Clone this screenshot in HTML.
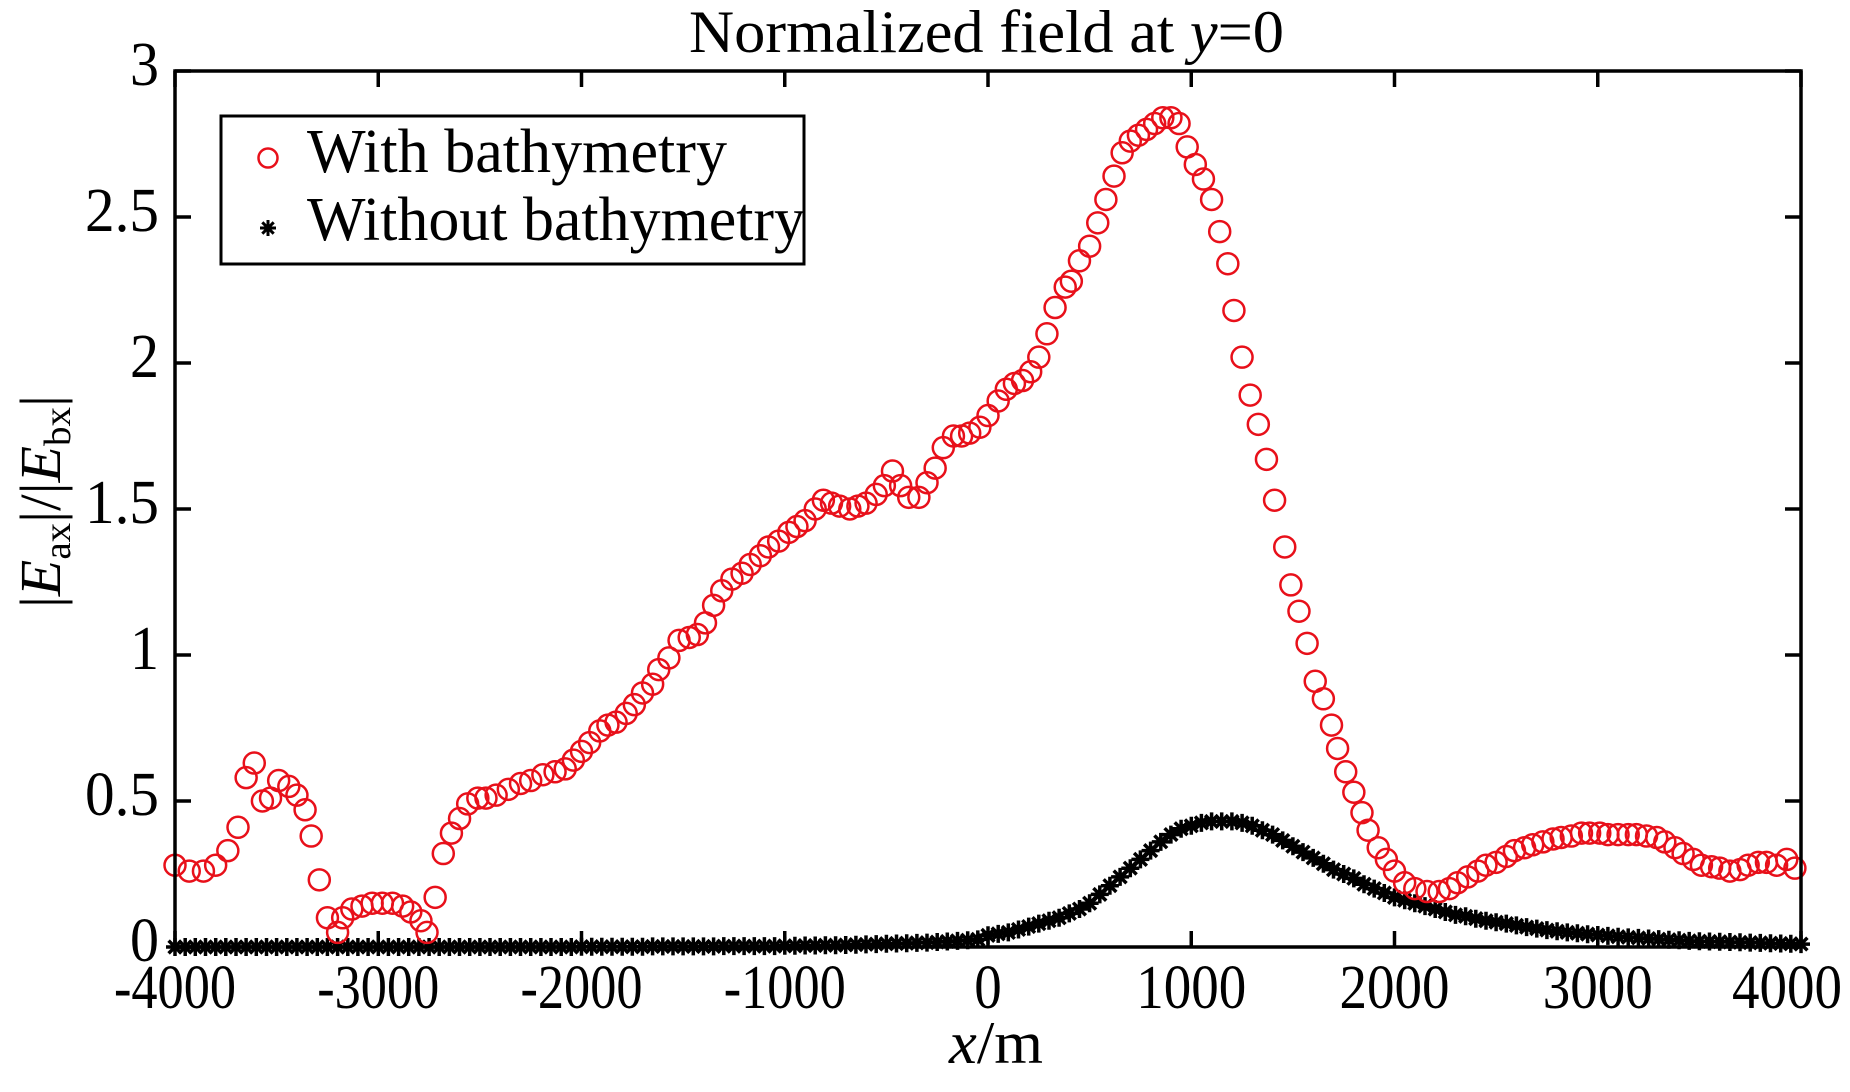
<!DOCTYPE html>
<html><head><meta charset="utf-8"><style>
html,body{margin:0;padding:0;background:#fff;}
svg{display:block;font-family:"Liberation Serif","Times New Roman",serif;}
</style></head><body>
<svg id="chart" width="1850" height="1092" viewBox="0 0 1850 1092" xmlns="http://www.w3.org/2000/svg">
<rect width="1850" height="1092" fill="#fff"/>
<text x="689" y="52" font-size="60" textLength="595" lengthAdjust="spacingAndGlyphs">Normalized field at <tspan font-style="italic">y</tspan>=0</text>
<g id="marks"></g>
<rect x="175" y="71" width="1626" height="876" fill="none" stroke="#000" stroke-width="3.5"/>
<g id="ticks"></g>
<text x="949" y="1063" font-size="60" textLength="94" lengthAdjust="spacingAndGlyphs"><tspan font-style="italic">x</tspan>/m</text>
<text transform="translate(60,608) rotate(-90)" font-size="58" textLength="213" lengthAdjust="spacingAndGlyphs">|<tspan font-style="italic">E</tspan><tspan font-size="38" dy="10">ax</tspan><tspan dy="-10">|/|</tspan><tspan font-style="italic">E</tspan><tspan font-size="38" dy="10">bx</tspan><tspan dy="-10">|</tspan></text>
<g>
<rect x="221" y="116" width="583" height="148" fill="#fff" stroke="#000" stroke-width="3"/>
<circle cx="268" cy="158" r="9.5" fill="none" stroke="#e8101a" stroke-width="2.5"/>
<text x="307" y="172" font-size="62" textLength="420" lengthAdjust="spacingAndGlyphs">With bathymetry</text>
<g id="legstar"></g>
<text x="307" y="240" font-size="62" textLength="498" lengthAdjust="spacingAndGlyphs">Without bathymetry</text>
</g>
</svg>
<script>
const redX=[-4000,-3930,-3860,-3800,-3740,-3690,-3650,-3610,-3570,-3530,-3490,-3440,-3400,-3360,-3330,-3290,-3250,-3200,-3175,-3130,-3080,-3030,-2980,-2930,-2880,-2840,-2790,-2760,-2720,-2680,-2640,-2600,-2560,-2510,-2470,-2420,-2360,-2300,-2250,-2190,-2130,-2080,-2040,-2000,-1960,-1910,-1870,-1830,-1780,-1740,-1700,-1650,-1620,-1570,-1520,-1470,-1430,-1390,-1350,-1310,-1260,-1210,-1170,-1120,-1080,-1030,-980,-940,-900,-850,-810,-770,-730,-680,-640,-600,-550,-510,-470,-430,-390,-340,-300,-260,-220,-170,-130,-90,-40,0,50,90,130,170,210,250,290,330,380,410,450,500,540,580,620,660,700,740,780,820,860,900,940,980,1020,1060,1100,1140,1180,1210,1250,1290,1330,1370,1410,1460,1490,1530,1570,1610,1650,1690,1720,1760,1800,1840,1870,1920,1960,2000,2050,2100,2160,2220,2270,2310,2360,2410,2450,2500,2550,2590,2640,2680,2730,2780,2820,2870,2920,2960,3010,3050,3100,3150,3190,3240,3290,3330,3380,3420,3470,3510,3560,3600,3650,3700,3740,3790,3830,3880,3930,3970,4000];
const redY=[0.28,0.26,0.26,0.28,0.33,0.41,0.58,0.63,0.50,0.51,0.57,0.55,0.52,0.47,0.38,0.23,0.10,0.05,0.10,0.13,0.14,0.15,0.15,0.15,0.14,0.12,0.09,0.05,0.17,0.32,0.39,0.44,0.49,0.51,0.51,0.52,0.54,0.56,0.57,0.59,0.60,0.61,0.64,0.67,0.70,0.74,0.76,0.77,0.80,0.83,0.87,0.90,0.95,0.99,1.05,1.06,1.07,1.11,1.17,1.22,1.26,1.28,1.31,1.34,1.37,1.39,1.42,1.44,1.46,1.50,1.53,1.52,1.51,1.50,1.51,1.52,1.55,1.58,1.63,1.58,1.54,1.54,1.59,1.64,1.71,1.75,1.75,1.76,1.78,1.82,1.87,1.91,1.93,1.94,1.97,2.02,2.10,2.19,2.26,2.28,2.35,2.40,2.48,2.56,2.64,2.72,2.76,2.78,2.80,2.82,2.84,2.84,2.82,2.74,2.68,2.63,2.56,2.45,2.34,2.18,2.02,1.89,1.79,1.67,1.53,1.37,1.24,1.15,1.04,0.91,0.85,0.76,0.68,0.60,0.53,0.46,0.40,0.34,0.30,0.26,0.22,0.20,0.19,0.19,0.20,0.22,0.24,0.26,0.28,0.29,0.31,0.33,0.34,0.35,0.36,0.37,0.375,0.38,0.39,0.39,0.39,0.385,0.385,0.385,0.385,0.38,0.375,0.36,0.34,0.32,0.30,0.28,0.275,0.27,0.26,0.265,0.28,0.29,0.29,0.28,0.30,0.27];
const blackX=[-4000,-3950,-3900,-3850,-3800,-3750,-3700,-3650,-3600,-3550,-3500,-3450,-3400,-3350,-3300,-3250,-3200,-3150,-3100,-3050,-3000,-2950,-2900,-2850,-2800,-2750,-2700,-2650,-2600,-2550,-2500,-2450,-2400,-2350,-2300,-2250,-2200,-2150,-2100,-2050,-2000,-1950,-1900,-1850,-1800,-1750,-1700,-1650,-1600,-1550,-1500,-1450,-1400,-1350,-1300,-1250,-1200,-1150,-1100,-1050,-1000,-950,-900,-850,-800,-750,-700,-650,-600,-550,-500,-450,-400,-350,-300,-250,-200,-150,-100,-50,0,50,100,150,200,250,300,350,400,450,500,550,600,650,700,750,800,850,900,950,1000,1050,1100,1150,1200,1250,1300,1350,1400,1450,1500,1550,1600,1650,1700,1750,1800,1850,1900,1950,2000,2050,2100,2150,2200,2250,2300,2350,2400,2450,2500,2550,2600,2650,2700,2750,2800,2850,2900,2950,3000,3050,3100,3150,3200,3250,3300,3350,3400,3450,3500,3550,3600,3650,3700,3750,3800,3850,3900,3950,4000];
const blackY=[0,0,0,0,0,0,0,0,0,0,0,0,0,0,0,0,0,0,0,0,0,0,0,0,0,0,0,0,0,0,0,0,0,0,0,0,0,0,0,0,
0.001,0.001,0.001,0.001,0.001,0.001,0.001,0.002,0.002,0.002,0.002,0.002,0.002,0.002,0.003,0.003,0.003,0.003,0.003,0.003,
0.004,0.004,0.005,0.005,0.006,0.006,0.007,0.008,0.009,0.010,
0.011,0.012,0.013,0.014,0.015,0.017,0.019,0.021,0.023,0.026,
0.04,0.045,0.05,0.06,0.07,0.08,0.09,0.10,0.115,0.13,
0.15,0.18,0.21,0.24,0.27,0.30,0.33,0.36,0.385,0.405,
0.415,0.425,0.43,0.43,0.43,0.425,0.415,0.40,0.385,0.365,
0.345,0.325,0.305,0.285,0.265,0.25,0.235,0.215,0.20,0.185,
0.17,0.16,0.15,0.14,0.13,0.12,0.11,0.105,0.097,0.09,
0.085,0.08,0.074,0.068,0.063,0.058,0.054,0.05,0.047,0.044,
0.041,0.038,0.035,0.033,0.031,0.029,0.027,0.025,0.023,0.021,
0.02,0.019,0.018,0.017,0.016,0.015,0.014,0.013,0.012,0.011,0.01];
const xTicks=[-4000,-3000,-2000,-1000,0,1000,2000,3000,4000];
const xTickLabels=["-4000","-3000","-2000","-1000","0","1000","2000","3000","4000"];
const yTicks=[0,0.5,1,1.5,2,2.5,3];
const yTickLabels=["0","0.5","1","1.5","2","2.5","3"];

const NS="http://www.w3.org/2000/svg";
const L=175,R=1801,T=71,B=947;
function xs(v){return L+(v+4000)/8000*(R-L);}
function ys(v){return B-v/3*(B-T);}
function mk(tag,attrs,parent){const e=document.createElementNS(NS,tag);for(const k in attrs)e.setAttribute(k,attrs[k]);parent.appendChild(e);return e;}
function starPath(cx,cy,s){let d="";for(let i=0;i<4;i++){const a=i*Math.PI/4;const dx=Math.cos(a)*s,dy=Math.sin(a)*s;d+=`M${(cx-dx).toFixed(1)},${(cy-dy).toFixed(1)}L${(cx+dx).toFixed(1)},${(cy+dy).toFixed(1)}`;}return d;}

const marks=document.getElementById('marks');
const ticks=document.getElementById('ticks');
const nb=Math.min(blackX.length,blackY.length);
for(let i=0;i<nb;i++){
  const p=mk('path',{d:starPath(xs(blackX[i]),ys(blackY[i]),9),stroke:'#000','stroke-width':3.5,fill:'none'},marks);
  
  
}
const nr=Math.min(redX.length,redY.length);
for(let i=0;i<nr;i++){
  const c=mk('circle',{cx:xs(redX[i]),cy:ys(redY[i]),r:10.5,fill:'none',stroke:'#e8101a','stroke-width':2.5},marks);
  
  
}
const ls=mk('path',{d:starPath(268,228,8),stroke:'#000','stroke-width':3,fill:'none'},document.getElementById('legstar'));



xTicks.forEach((v,i)=>{
  const x=xs(v);
  const t1=mk('line',{x1:x,y1:B,x2:x,y2:B-16,stroke:'#000','stroke-width':3.5},ticks);
  
  
  const t2=mk('line',{x1:x,y1:T,x2:x,y2:T+16,stroke:'#000','stroke-width':3.5},ticks);
  
  
  const lab=xTickLabels[i];
  const neg=lab[0]==='-';
  const w=(neg?lab.length-1:lab.length)*27.5+(neg?12:0);
  const cx=Math.min(x,1842-w/2);
  const tx=mk('text',{x:cx,y:1008,'font-size':62,'text-anchor':'middle',textLength:w,lengthAdjust:'spacingAndGlyphs'},ticks);
  tx.textContent=lab;
  
  
});
yTicks.forEach((v,i)=>{
  const y=ys(v);
  const t1=mk('line',{x1:L,y1:y,x2:L+16,y2:y,stroke:'#000','stroke-width':3.5},ticks);
  
  
  const t2=mk('line',{x1:R,y1:y,x2:R-16,y2:y,stroke:'#000','stroke-width':3.5},ticks);
  
  
  const lab=yTickLabels[i];
  const w=lab.length===1?29:74;
  const ty=mk('text',{x:159-w,y:y+14,'font-size':62,textLength:w,lengthAdjust:'spacingAndGlyphs'},ticks);
  ty.textContent=lab;
  
  
});
</script>
</body></html>
